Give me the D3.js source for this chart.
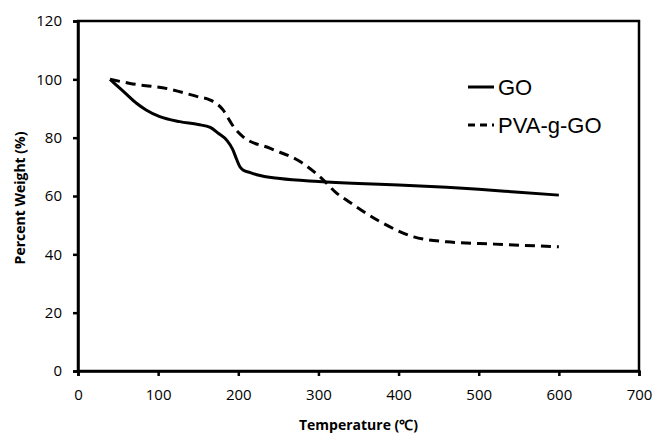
<!DOCTYPE html>
<html>
<head>
<meta charset="utf-8">
<script src="https://cdn.jsdelivr.net/npm/d3@7"></script>
<style>
  body { margin: 0; background: #fff; }
  .tick text { font-family: "Open Sans", sans-serif; font-size: 15px; fill: #000; }
</style>
</head>
<body>
<div id="chart"></div>
<script>
// Data
const goTemps = [40, 50, 60, 73, 85, 102, 127, 150, 165, 175, 186, 193, 198, 202, 206, 215, 223, 252, 300, 350, 400, 460, 500, 550, 600];
const goValues = [100, 97.5, 95, 91.8, 89.5, 87.2, 85.5, 84.5, 83.5, 81.5, 79, 76, 72.5, 70, 68.9, 68, 67.3, 66, 65, 64.3, 63.8, 63, 62.3, 61.3, 60.3];

const pvaTemps = [40, 65, 115, 150, 165, 181, 190, 194, 206, 240, 277, 302, 323, 335, 377, 419, 460, 520, 600];
const pvaValues = [100, 98.6, 96.6, 94, 92.9, 89.5, 85.5, 83.8, 80.3, 76.3, 71.8, 66.6, 60.9, 58.6, 51.2, 46, 44.3, 43.5, 42.6];

const xTicks = [0, 100, 200, 300, 400, 500, 600, 700];
const yTicks = [0, 20, 40, 60, 80, 100, 120];

const seriesNames = ["GO", "PVA-g-GO"];

const width = 655;
const height = 433;
const margin = { top: 21, right: 16, bottom: 62, left: 78 };

const svg = d3.select("#chart").append("svg")
    .attr("width", width)
    .attr("height", height);

const x = d3.scaleLinear()
    .domain([0, 700])
    .range([margin.left, width - margin.right]);

const y = d3.scaleLinear()
    .domain([0, 120])
    .range([height - margin.bottom, margin.top]);

// frame around plot area
svg.append("rect")
    .attr("x", x(0))
    .attr("y", y(120))
    .attr("width", x(700) - x(0))
    .attr("height", y(0) - y(120))
    .attr("fill", "none")
    .attr("stroke", "#000")
    .attr("stroke-width", 2.5);

// axes
const xAxis = svg.append("g")
    .attr("transform", `translate(0,${y(0)})`)
    .call(d3.axisBottom(x).tickValues(xTicks).tickSize(5).tickPadding(13));

const yAxis = svg.append("g")
    .attr("transform", `translate(${x(0)},0)`)
    .call(d3.axisLeft(y).tickValues(yTicks).tickSize(5).tickPadding(11));

[xAxis, yAxis].forEach(a => {
    a.select(".domain").attr("stroke", "#000").attr("stroke-width", 2.5);
    a.selectAll(".tick line").attr("stroke", "#000").attr("stroke-width", 2.5);
});

// axis titles
svg.append("text")
    .attr("x", (x(0) + x(700)) / 2)
    .attr("y", 430)
    .attr("text-anchor", "middle")
    .style("font-family", "'Open Sans', sans-serif")
    .style("font-size", "14px")
    .style("font-weight", "bold")
    .text("Temperature (℃)");

svg.append("text")
    .attr("transform", `translate(25,${(y(0) + y(120)) / 2 + 2}) rotate(-90)`)
    .attr("text-anchor", "middle")
    .style("font-family", "'Open Sans', sans-serif")
    .style("font-size", "14px")
    .style("font-weight", "bold")
    .text("Percent Weight (%)");

// lines
const line = d3.line()
    .x(d => x(d[0]))
    .y(d => y(d[1]))
    .curve(d3.curveMonotoneX);

const goData = goTemps.map((t, i) => [t, goValues[i]]);
const pvaData = pvaTemps.map((t, i) => [t, pvaValues[i]]);

svg.append("path")
    .datum(goData)
    .attr("d", line)
    .attr("fill", "none")
    .attr("stroke", "#000")
    .attr("stroke-width", 3);

svg.append("path")
    .datum(pvaData)
    .attr("d", line)
    .attr("fill", "none")
    .attr("stroke", "#000")
    .attr("stroke-width", 3)
    .attr("stroke-dasharray", "10,6");

// legend
const legend = svg.append("g")
    .attr("transform", "translate(468,87)");

const dashes = [null, "7,5"];
seriesNames.forEach((name, i) => {
    legend.append("line")
        .attr("x1", 0)
        .attr("x2", 26)
        .attr("y1", i * 38)
        .attr("y2", i * 38)
        .attr("stroke", "#000")
        .attr("stroke-width", 3)
        .attr("stroke-dasharray", dashes[i]);
    legend.append("text")
        .attr("x", 30)
        .attr("y", i * 38 + 8)
        .style("font-family", "'Liberation Sans', Arial, sans-serif")
        .style("font-size", "22px")
        .text(name);
});
</script>
</body>
</html>
